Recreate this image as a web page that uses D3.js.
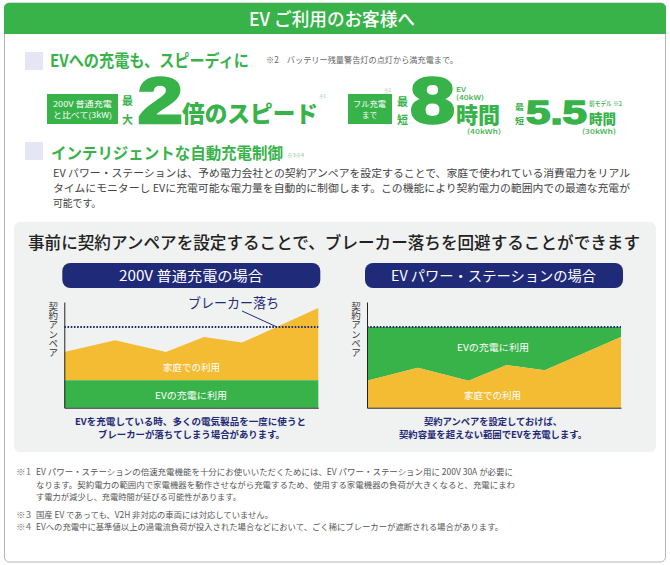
<!DOCTYPE html>
<html lang="ja">
<head>
<meta charset="utf-8">
<script src="https://cdnjs.cloudflare.com/ajax/libs/d3/7.8.5/d3.min.js"></script>
<style>
    html, body { margin: 0; padding: 0; background: #fff; }
    svg { display: block; }
    text { font-family: "Noto Sans CJK JP", "Noto Sans", sans-serif; }
</style>
</head>
<body>
<script type="text/javascript">

    /* chart values */
    var timeSteps = [0, 20, 40, 55, 70, 100];
    var homeUseLeft = [52.8, 63.8, 52.8, 67, 61.6, 94.3];
    var evChargeLeft = [26, 26, 26, 26, 26, 26];
    var homeUseRight = [25.5, 37.7, 25.5, 40.3, 35.5, 67];
    var contractLimit = [76.4, 76.4, 76.4, 76.4, 76.4, 76.4];

    var bodyLines = [
        "EV パワー・ステーションは、予め電力会社との契約アンペアを設定することで、家庭で使われている消費電力をリアル",
        "タイムにモニターし EVに充電可能な電力量を自動的に制御します。この機能により契約電力の範囲内での最適な充電が",
        "可能です。"
    ];

    var green = "#37b34a", yellow = "#f3bc33", navy = "#1f2a78";
    var width = 670, height = 565;

    var svg = d3.select("body").append("svg")
            .attr("width", width)
            .attr("height", height);

    /* text helper: x0-x1 fixes the drawn width */
    function label(x0, x1, y, str, size, color, weight) {
        return svg.append("text")
                .attr("x", x0)
                .attr("y", y)
                .attr("textLength", x1 - x0)
                .attr("lengthAdjust", "spacingAndGlyphs")
                .attr("font-size", size)
                .attr("font-weight", weight || 400)
                .attr("fill", color)
                .text(str);
    }

    /* outer frame and header */
    svg.append("rect")
            .attr("x", 4.5).attr("y", 3).attr("width", 661).attr("height", 559)
            .attr("rx", 5)
            .attr("fill", "#fff").attr("stroke", "#b5b5b5");
    svg.append("path")
            .attr("d", "M4,34V8a5,5 0 0 1 5,-5H661a5,5 0 0 1 5,5V34Z")
            .attr("fill", green);
    label(249, 415, 26, "EV ご利用のお客様へ", 18, "#fff", 500);

    /* section headings */
    [[52], [142]].forEach(function(d) {
        svg.append("rect")
                .attr("x", 25).attr("y", d[0]).attr("width", 18).attr("height", 18)
                .attr("fill", "#e4e7f3");
    });
    label(50, 249, 67, "EVへの充電も、スピーディに", 17, green, 700);
    label(266, 458, 63, "※2　バッテリー残量警告灯の点灯から満充電まで。", 8.5, "#666");
    label(51, 283, 159, "インテリジェントな自動充電制御", 16, green, 700);
    label(287, 304, 157, "※3※4", 4.5, "#7fc48a");

    /* speed figures */
    svg.append("rect").attr("x", 47).attr("y", 94).attr("width", 71).attr("height", 30).attr("fill", green);
    label(53, 112, 107, "200V 普通充電", 8, "#fff");
    label(53, 112, 118, "と比べて(3kW)", 8, "#fff");
    label(122, 133, 105, "最", 11, green, 700);
    label(122, 133, 124, "大", 11, green, 700);
    label(137.5, 183, 123, "2", 65, green, 700)
            .style("font-family", "Liberation Sans").attr("stroke", green).attr("stroke-width", 2.5);
    label(182, 318, 122, "倍のスピード", 23, green, 900);
    label(319, 326, 98, "※1", 4.5, "#7fc48a");

    svg.append("rect").attr("x", 348).attr("y", 94).attr("width", 44).attr("height", 30).attr("fill", green);
    label(353, 386, 107, "フル充電", 8, "#fff");
    label(362, 377, 118, "まで", 8, "#fff");
    label(384, 391, 92, "※2", 4.5, "#7fc48a");
    label(397, 408, 106, "最", 11, green, 700);
    label(397, 408, 124, "短", 11, green, 700);
    label(410, 455, 123, "8", 65, green, 700)
            .style("font-family", "Liberation Sans").attr("stroke", green).attr("stroke-width", 2.5);
    label(456, 466, 92, "EV", 6.5, green, 500);
    label(456, 484, 100, "(40kW)", 6.5, green, 500);
    label(456, 500, 123, "時間", 22, green, 900);
    label(467, 501, 134, "(40kWh)", 6.5, green, 500);

    label(515, 524, 110, "最", 8.5, green, 700);
    label(515, 524, 124, "短", 8.5, green, 700);
    label(526, 587, 124, "5.5", 33, green, 700)
            .style("font-family", "Liberation Sans").attr("stroke", green).attr("stroke-width", 1.5);
    label(589, 622, 106, "前モデル ※2", 6.5, green, 500);
    label(589, 616, 124, "時間", 13.5, green, 900);
    label(582, 616, 134, "(30kWh)", 6.5, green, 500);

    /* body text */
    label(53, 630, 177, bodyLines[0], 10.5, "#444");
    label(53, 630, 192, bodyLines[1], 10.5, "#444");
    label(53, 101, 207, bodyLines[2], 10.5, "#444");

    /* gray panel */
    svg.append("rect")
            .attr("x", 14).attr("y", 222).attr("width", 642).attr("height", 230)
            .attr("rx", 6)
            .attr("fill", "#f0f1f1");
    label(28, 640, 249, "事前に契約アンペアを設定することで、ブレーカー落ちを回避することができます", 17, "#222", 500);

    /* one stacked area chart */
    function drawChart(opt) {
        var x = d3.scaleLinear().domain([0, 100]).range([opt.left, opt.left + 254]);
        var y = d3.scaleLinear().domain([0, 100]).range([407.7, 302]);

        svg.append("rect")
                .attr("x", opt.left - 2).attr("y", 263).attr("width", 258).attr("height", 25)
                .attr("rx", 8)
                .attr("fill", navy);
        label(opt.titleX[0], opt.titleX[1], 281, opt.title, 14, "#fff");

        var rows = timeSteps.map(function(t, i) {
            return {t: t, lower: opt.lower[i], upper: opt.upper[i]};
        });
        var below = d3.area()
                .x(function(d) { return x(d.t); })
                .y0(y(0))
                .y1(function(d) { return y(d.lower); });
        var above = d3.area()
                .x(function(d) { return x(d.t); })
                .y0(function(d) { return y(d.lower); })
                .y1(function(d) { return y(d.upper); });

        svg.append("path").datum(rows).attr("d", above).attr("fill", opt.upperColor);
        svg.append("path").datum(rows).attr("d", below).attr("fill", opt.lowerColor);

        /* axes only, no ticks */
        svg.append("g")
                .attr("transform", "translate(" + opt.left + ",0)")
                .call(d3.axisLeft(y).tickValues([]).tickSizeOuter(0))
                .select(".domain").attr("stroke", "#222").attr("stroke-width", 1);
        svg.append("g")
                .attr("transform", "translate(0," + y(0) + ")")
                .call(d3.axisBottom(x).tickValues([]).tickSizeOuter(0))
                .select(".domain").attr("stroke", "#222").attr("stroke-width", 1);

        /* contract ampere line */
        svg.append("path")
                .datum(timeSteps.map(function(t, i) { return {t: t, v: contractLimit[i]}; }))
                .attr("d", d3.line().x(function(d) { return x(d.t); }).y(function(d) { return y(d.v); }))
                .attr("fill", "none")
                .attr("stroke", navy)
                .attr("stroke-width", 2)
                .attr("stroke-dasharray", "1.6 1.6");

        svg.append("text")
                .attr("transform", "translate(" + (opt.left - 11) + ",302)")
                .attr("writing-mode", "vertical-rl")
                .attr("textLength", 55)
                .attr("lengthAdjust", "spacingAndGlyphs")
                .attr("font-size", 9.5)
                .attr("fill", "#333")
                .text("契約アンペア");

        opt.notes.forEach(function(n) {
            label(n[0], n[1], n[2], n[3], 9.5, "#fff");
        });
        opt.captions.forEach(function(c) {
            label(c[0], c[1], c[2], c[3], 9.5, navy, 700);
        });
    }

    drawChart({
        left: 64.3,
        title: "200V 普通充電の場合",
        titleX: [119, 263],
        lower: evChargeLeft,
        upper: homeUseLeft,
        lowerColor: green,
        upperColor: yellow,
        notes: [[163, 220, 371, "家庭での利用"], [155, 227, 399, "EVの充電に利用"]],
        captions: [
            [75, 306, 425, "EVを充電している時、多くの電気製品を一度に使うと"],
            [98, 285, 438, "ブレーカーが落ちてしまう場合があります。"]
        ]
    });

    drawChart({
        left: 367,
        title: "EV パワー・ステーションの場合",
        titleX: [391, 596],
        lower: homeUseRight,
        upper: contractLimit,
        lowerColor: yellow,
        upperColor: green,
        notes: [[457, 529, 351, "EVの充電に利用"], [464, 521, 399, "家庭での利用"]],
        captions: [
            [424, 562, 425, "契約アンペアを設定しておけば、"],
            [399, 587, 438, "契約容量を超えない範囲でEVを充電します。"]
        ]
    });

    /* breaker callout */
    label(188, 279, 308, "ブレーカー落ち", 13.5, navy);
    svg.append("line")
            .attr("x1", 242).attr("y1", 311).attr("x2", 277).attr("y2", 327)
            .attr("stroke", navy).attr("stroke-width", 1);

    /* footnotes */
    label(16, 31, 475, "※1", 8.3, "#777");
    label(36, 513, 475, "EV パワー・ステーションの倍速充電機能を十分にお使いいただくためには、EV パワー・ステーション用に 200V 30A が必要に", 8.3, "#555");
    label(36, 515, 487.5, "なります。契約電力の範囲内で家電機器を動作させながら充電するため、使用する家電機器の負荷が大きくなると、充電にまわ", 8.3, "#555");
    label(36, 241, 499.5, "す電力が減少し、充電時間が延びる可能性があります。", 8.3, "#555");
    label(16, 31, 517.5, "※3", 8.3, "#777");
    label(36, 273, 517.5, "国産 EV であっても、V2H 非対応の車両には対応していません。", 8.3, "#555");
    label(16, 31, 529.5, "※4", 8.3, "#777");
    label(36, 503, 529.5, "EVへの充電中に基準値以上の過電流負荷が投入された場合などにおいて、ごく稀にブレーカーが遮断される場合があります。", 8.3, "#555");

</script>
</body>
</html>
